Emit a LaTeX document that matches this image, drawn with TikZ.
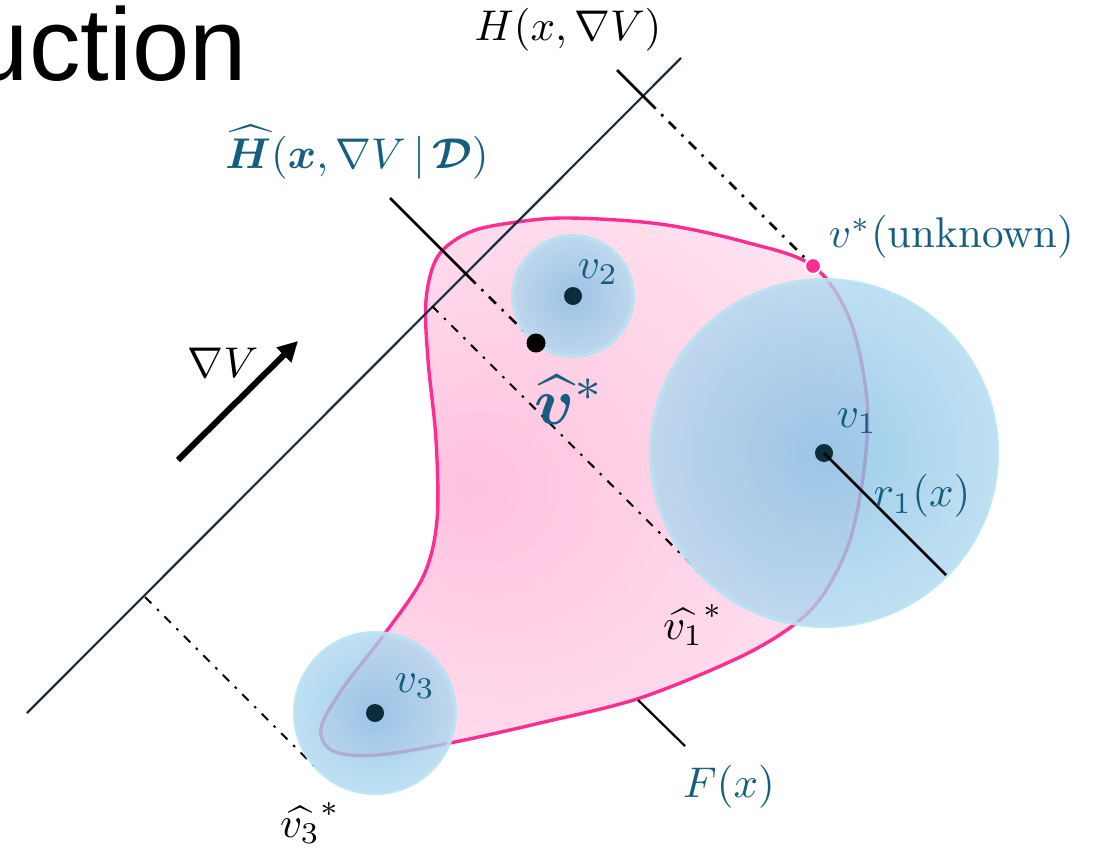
\documentclass[tikz,border=0pt]{standalone}
\usepackage{bm}
\usepackage{fontspec}
\newfontfamily\arialfont{Liberation Sans}
\usetikzlibrary{arrows.meta}
\definecolor{labelc}{RGB}{22,94,128}
\definecolor{pinkline}{RGB}{255,45,145}
\definecolor{pinkin}{RGB}{255,194,222}
\definecolor{pinkout}{RGB}{255,238,246}
\definecolor{bluein}{RGB}{128,190,228}
\definecolor{blueout}{RGB}{216,238,248}
\definecolor{blueedge}{RGB}{185,226,242}
\definecolor{navy}{RGB}{25,45,70}
\definecolor{dotc}{RGB}{10,45,60}
\pgfdeclareradialshading{blobshade}{\pgfpoint{-12bp}{0bp}}{color(0bp)=(pinkin); color(42bp)=(pinkout); color(50bp)=(pinkout)}
\pgfdeclareradialshading{ballshade}{\pgfpoint{0bp}{0bp}}{color(0bp)=(bluein); color(48bp)=(blueout); color(50bp)=(blueout)}
\tikzset{
  lab/.style={text=labelc, inner sep=0pt, font=\fontsize{10}{12}\selectfont, scale=4.3},
  blab/.style={text=black, inner sep=0pt, font=\fontsize{10}{12}\selectfont, scale=4.3},
  ball/.style={circle, inner sep=0pt, shading=ballshade, draw=blueedge, line width=4pt, fill opacity=0.78, draw opacity=0.9},
  cdot/.style={circle, inner sep=0pt, fill=dotc, minimum size=18pt},
  dashdot/.style={black, line width=2.6pt, dash pattern=on 10pt off 8pt on 2.5pt off 8pt},
  dashdotthin/.style={black, line width=2pt, dash pattern=on 9pt off 8pt on 2.5pt off 8pt},
  solidlead/.style={black, line width=2.6pt},
}
\begin{document}
\begin{tikzpicture}[x=1pt, y=-1pt]
\useasboundingbox (0,0) rectangle (1094,849);
% title fragment
\node[font=\arialfont\fontsize{103}{110}\selectfont, anchor=base east, inner sep=0pt] (title) at (247,80) {uction};
% feasible set F(x)
\path[draw=pinkline, line width=3.4pt, shading=blobshade]
  plot[smooth cycle, tension=0.55] coordinates {
  (570,218) (660,224) (745,242) (813,266) (850,320) (867,400) (864,470) (850,540) (825,592) (795,624)
  (740,657) (640,698) (540,723) (450,743) (377,755) (333,751) (321,728) (343,688) (383,636)
  (423,577) (437,520) (436,440) (428,360) (426,300) (438,256) (470,232) (517,222)};
% coordinates
\coordinate (Ha) at (27,713); \coordinate (Hb) at (681,58);
\coordinate (vsS) at (617,70); \coordinate (vsM) at (655,108);
\coordinate (hhS) at (390,198); \coordinate (hhM) at (475,283);
\coordinate (l3a) at (432,306); \coordinate (l3b) at (703,576);
\coordinate (l4a) at (145,597); \coordinate (l4b) at (318,770);
\coordinate (gA) at (178,460); \coordinate (gB) at (298,341);
\coordinate (r1e) at (946,575);
\coordinate (Fa) at (638,700); \coordinate (Fb) at (685,746);
% hyperplane H
\draw[navy, line width=2.2pt] (Ha) -- (Hb);
% dash-dot support lines
\coordinate (vstar) at (813,266);
\coordinate (vhatc) at (536,343);
\draw[solidlead] (vsS) -- (vsM);
\draw[dashdot, dash phase=9pt] (vsM) -- (vstar);
\draw[solidlead] (hhS) -- (hhM);
\draw[dashdot, dash phase=9pt] (hhM) -- (vhatc);
\draw[dashdotthin] (l3a) -- (l3b);
\draw[dashdotthin] (l4a) -- (l4b);
% balls
\node[ball, minimum size=120pt] (B2) at (573,296) {};
\node[ball, minimum size=346pt] (B1) at (824,453) {};
\node[ball, minimum size=160pt] (B3) at (375,713) {};
\node[cdot] (v2) at (573,296) {};
\node[cdot] (v1) at (824,453) {};
\node[cdot] (v3) at (375,713) {};
\node[circle, inner sep=0pt, fill=black, minimum size=19pt] (vhat) at (vhatc) {};
\draw[black, line width=2.6pt] (v1.center) -- (r1e);
\draw[black, line width=2.2pt] (Fa) -- (Fb);
% v* point
\node[circle, inner sep=0pt, fill=pinkline, draw=white, line width=2pt, minimum size=16pt] (vstarpt) at (vstar) {};
% gradient arrow
\draw[black, line width=6pt, -{Triangle[length=20pt, width=20pt]}] (gA) -- (gB);
% labels
\node[lab] (Lv2) at (598,272) {$v_2$};
\node[lab] (Lv1) at (857,421) {$v_1$};
\node[lab] (Lv3) at (415,686) {$v_3$};
\node[lab] (Lr1) at (922,496) {$r_1(x)$};
\node[lab, scale=1.55] (Lvh) at (570,400) {$\bm{\widehat{v}}^{*}$};
\node[blab] (Lv1h) at (693,625) {$\widehat{v_1}^{*}$};
\node[blab] (Lv3h) at (310,823) {$\widehat{v_3}^{*}$};
\node[lab] (LF) at (729,787) {$F(x)$};
\node[lab] (LHh) at (357,152) {$\bm{\widehat{H}}(\bm{x},\nabla V\,|\,\bm{\mathcal{D}})$};
\node[blab] (LH) at (568,30) {$H(x,\nabla V)$};
\node[lab, anchor=west] (Lvs) at (828,237) {$v^{*}$(unknown)};
\node[blab] (Lg) at (223,363) {$\nabla V$};
\end{tikzpicture}
\end{document}
